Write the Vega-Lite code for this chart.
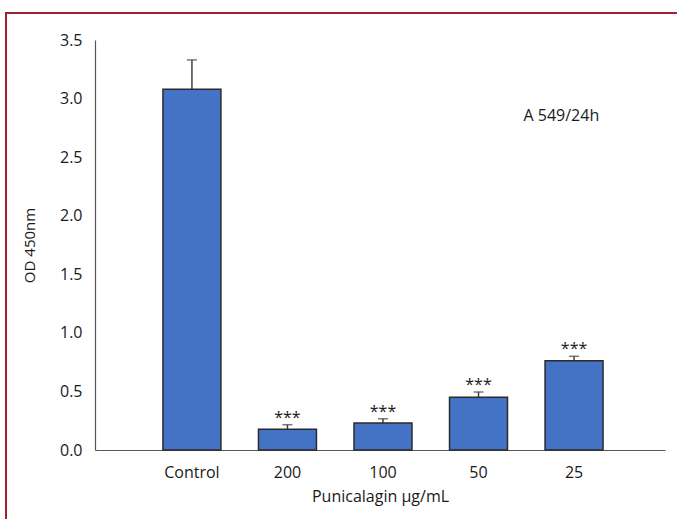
{
  "$schema": "https://vega.github.io/schema/vega-lite/v6.json",
  "autosize": "none",
  "padding": {"left": 6, "top": 13, "right": 0, "bottom": 0},
  "width": 674,
  "height": 509,
  "background": "white",
  "config": {
    "view": {"stroke": "#a3212b", "strokeWidth": 2, "fill": "white"},
    "font": "Open Sans",
    "axis": {"labelFont": "Open Sans", "titleFont": "Open Sans", "labelColor": "#1a1a1a", "titleColor": "#1a1a1a", "titleFontWeight": "normal", "domainColor": "#555555", "domainWidth": 1.2, "ticks": false, "tickSize": 0, "grid": false}
  },
  "data": {
    "values": [
      {"group": "Control", "mean": 3.08, "upper": 3.33, "sig": ""},
      {"group": "200", "mean": 0.177, "upper": 0.216, "sig": "***"},
      {"group": "100", "mean": 0.23, "upper": 0.267, "sig": "***"},
      {"group": "50", "mean": 0.45, "upper": 0.495, "sig": "***"},
      {"group": "25", "mean": 0.762, "upper": 0.80, "sig": "***"}
    ]
  },
  "encoding": {
    "x": {
      "field": "group", "type": "nominal", "sort": null,
      "scale": {"range": [89, 659], "paddingInner": 0.393, "paddingOuter": 0.68, "align": 0.523},
      "axis": {"orient": "bottom", "offset": -72, "labelAngle": 0, "labelFontSize": 16, "labelPadding": 14, "title": "Punicalagin µg/mL", "titleFontSize": 16, "titlePadding": 8}
    }
  },
  "layer": [
    {
      "mark": {"type": "rule", "color": "#404040", "strokeWidth": 1.5},
      "encoding": {
        "y": {"field": "mean", "type": "quantitative"},
        "y2": {"field": "upper"}
      }
    },
    {
      "mark": {"type": "tick", "color": "#404040", "size": 10, "thickness": 1.5},
      "encoding": {
        "y": {"field": "upper", "type": "quantitative"}
      }
    },
    {
      "mark": {"type": "bar", "color": "#4472C4", "stroke": "#2b2b2b", "strokeWidth": 1.5},
      "encoding": {
        "y": {
          "field": "mean", "type": "quantitative",
          "scale": {"domain": [0, 3.5], "range": [437, 27], "nice": false, "zero": true},
          "axis": {"orient": "left", "offset": -89, "values": [0, 0.5, 1, 1.5, 2, 2.5, 3, 3.5], "format": ".1f", "labelFontSize": 16, "labelPadding": 13, "title": "OD 450nm", "titleFontSize": 15, "titlePadding": 22}
        }
      }
    },
    {
      "mark": {"type": "text", "fontSize": 16, "baseline": "bottom", "dy": 1, "color": "#1a1a1a"},
      "encoding": {
        "y": {"field": "upper", "type": "quantitative"},
        "text": {"field": "sig"}
      }
    },
    {
      "data": {"values": [{"label": "A 549/24h"}]},
      "mark": {"type": "text", "fontSize": 16, "align": "left", "baseline": "middle", "dx": 45, "color": "#1a1a1a"},
      "encoding": {
        "x": {"datum": "50"},
        "y": {"datum": 2.85},
        "text": {"field": "label"}
      }
    }
  ]
}
